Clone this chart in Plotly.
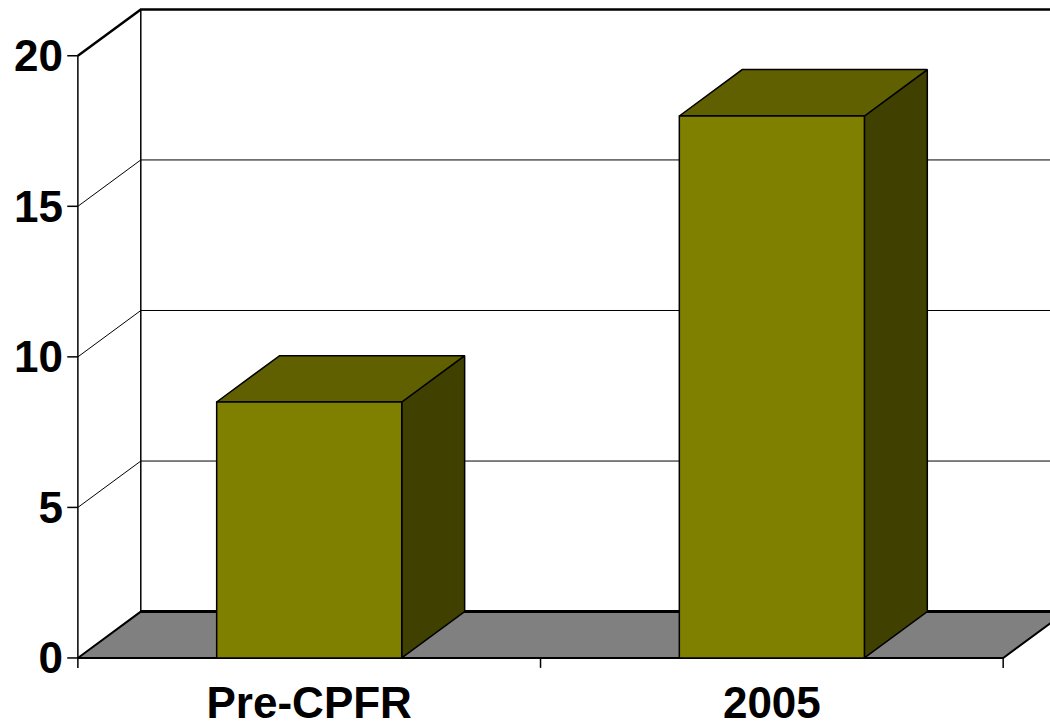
import plotly.graph_objects as go

# Data
categories = ["Pre-CPFR", "2005"]
values = [8.5, 18]
y_ticks = [0, 5, 10, 15, 20]
y_tick_labels = ["0", "5", "10", "15", "20"]

# Pseudo-3D geometry (in axis units)
DX = 0.136          # depth offset along x (category units)
DY = 1.54           # depth offset along y (value units)
BAR_W = 0.40        # bar width as fraction of a category slot
Y_TOP = 20

FRONT = "#808000"
TOP = "#606000"
SIDE = "#404000"
FLOOR = "#808080"
FONT = dict(family="Arial, Liberation Sans, sans-serif", size=44, color="black", weight="bold")

W, H = 1050, 727
ML, MB = 64, 57
X_RANGE = [-0.03, -0.03 + (W - ML) / 462.65]
Y_RANGE = [-0.4, -0.4 + (H - MB) / 30.11]

fig = go.Figure()


def poly(xs, ys, fill, lw=1.5):
    fig.add_trace(go.Scatter(
        x=xs + [xs[0]], y=ys + [ys[0]], mode="lines", fill="toself",
        fillcolor=fill, line=dict(color="black", width=lw),
        hoverinfo="skip", showlegend=False))


def lines(xs, ys, lw=1):
    fig.add_trace(go.Scatter(
        x=xs, y=ys, mode="lines", line=dict(color="black", width=lw),
        hoverinfo="skip", showlegend=False))


n = len(categories)

# Back wall gridlines and side-wall diagonals
gx, gy = [], []
for v in y_ticks[1:-1]:
    gx += [DX, n + 1, None, 0, DX, None]
    gy += [v + DY, v + DY, None, v, v + DY, None]
lines(gx, gy, 1)
# Top edge of back wall
lines([0, DX, n + 1], [Y_TOP, Y_TOP + DY, Y_TOP + DY], 2.5)
# Back wall left edge and front value axis
lines([DX, DX, None, 0, 0], [DY, Y_TOP + DY, None, 0, Y_TOP], 1.5)

# Floor
poly([0, n, n + DX, DX], [0, 0, DY, DY], FLOOR, 2)
lines([DX, n + 1], [DY, DY], 3)

# Tick marks
tx, ty = [], []
for k in range(n + 1):
    tx += [k, k, None]
    ty += [0, -0.33, None]
for v in y_ticks:
    tx += [0, -0.023, None]
    ty += [v, v, None]
lines(tx, ty, 1.5)

# Bars: front, top and side faces
for i, v in enumerate(values):
    x0 = i + 0.5 - BAR_W / 2
    x1 = i + 0.5 + BAR_W / 2
    poly([x1, x1 + DX, x1 + DX, x1], [0, DY, v + DY, v], SIDE)
    poly([x0, x1, x1 + DX, x0 + DX], [v, v, v + DY, v + DY], TOP)
    poly([x0, x1, x1, x0], [0, 0, v, v], FRONT)

fig.update_layout(
    width=W, height=H,
    margin=dict(l=ML, r=0, t=0, b=MB),
    plot_bgcolor="white", paper_bgcolor="white",
    xaxis=dict(range=X_RANGE, tickvals=[i + 0.5 for i in range(n)], ticktext=categories,
               ticks="", showgrid=False, zeroline=False, showline=False,
               tickfont=FONT, ticklabelstandoff=3, automargin=False),
    yaxis=dict(range=Y_RANGE, tickvals=y_ticks, ticktext=y_tick_labels,
               ticks="", showgrid=False, zeroline=False, showline=False,
               tickfont=FONT, ticklabelstandoff=0, automargin=False),
)

fig.write_html("out.html")
